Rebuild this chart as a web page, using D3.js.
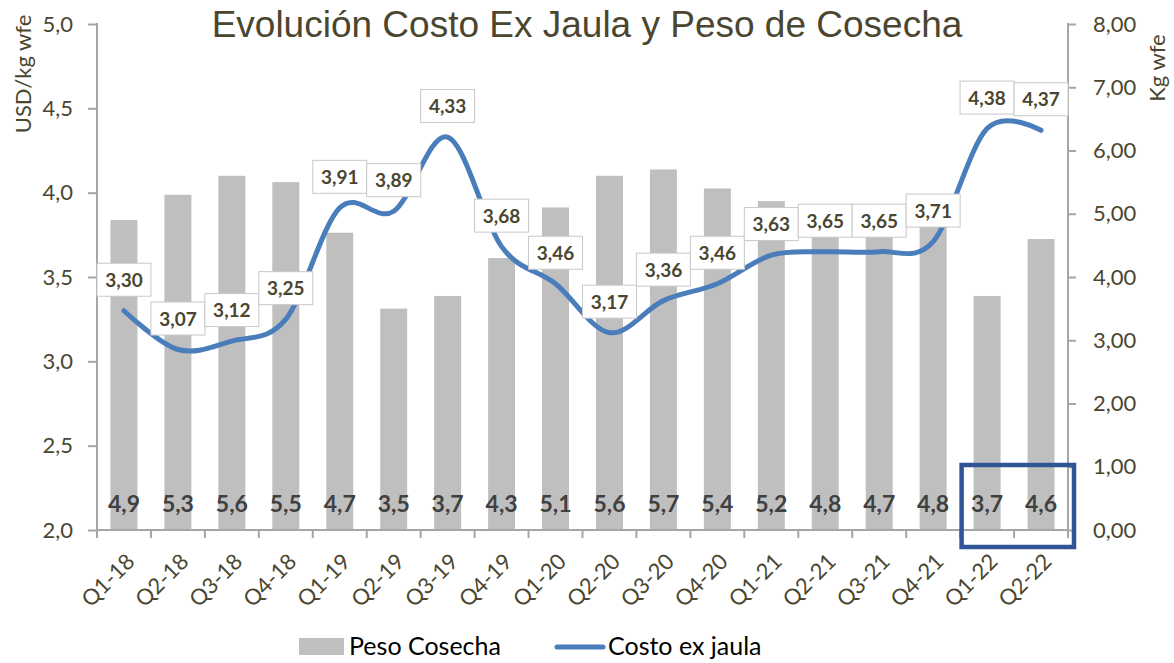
<!DOCTYPE html>
<html>
<head>
<meta charset="utf-8">
<script src="https://cdn.jsdelivr.net/npm/d3@7"></script>
<style>
  body { margin:0; background:#fff; }
  svg text { font-family: Lato, "Open Sans", sans-serif; }
</style>
</head>
<body>
<svg id="chart" width="1174" height="663"></svg>
<script>
// data
var quarters = ["Q1-18","Q2-18","Q3-18","Q4-18","Q1-19","Q2-19","Q3-19","Q4-19","Q1-20",
                "Q2-20","Q3-20","Q4-20","Q1-21","Q2-21","Q3-21","Q4-21","Q1-22","Q2-22"];
var pesoCosecha = [4.9,5.3,5.6,5.5,4.7,3.5,3.7,4.3,5.1,5.6,5.7,5.4,5.2,4.8,4.7,4.8,3.7,4.6];
var costoExJaula = [3.30,3.07,3.12,3.25,3.91,3.89,4.33,3.68,3.46,3.17,3.36,3.46,3.63,3.65,3.65,3.71,4.38,4.37];
var leftTicks = [2.0,2.5,3.0,3.5,4.0,4.5,5.0];
var rightTicks = [0,1,2,3,4,5,6,7,8];
var highlighted = ["Q1-22","Q2-22"];

var svg = d3.select("#chart");

var textColor = "#4a4630";
var axisColor = "#a6a6a6";

var plot = {left:97, right:1068, top:24, bottom:530};

var es = d3.formatLocale({decimal:",", thousands:".", grouping:[3], currency:["","$"]});
var f1 = es.format(".1f"), f2 = es.format(".2f");

var xScale = d3.scaleBand()
    .domain(quarters)
    .range([plot.left, plot.right])
    .paddingInner(0.5)
    .paddingOuter(0.25);

var yLeft = d3.scaleLinear().domain([2,5]).range([plot.bottom, plot.top]);
var yRight = d3.scaleLinear().domain([0,8]).range([plot.bottom, plot.top]);

var cx = function(q){ return xScale(q) + xScale.bandwidth()/2; };

// title
svg.append("text")
    .attr("x", 587).attr("y", 37)
    .attr("text-anchor","middle")
    .style("font-family","'Liberation Sans', Arial, sans-serif")
    .style("font-size","37px")
    .attr("fill", textColor)
    .text("Evolución Costo Ex Jaula y Peso de Cosecha");

// bars
svg.append("g").selectAll("rect")
    .data(pesoCosecha)
    .enter()
    .append("rect")
    .attr("x", function(d,i){ return xScale(quarters[i]); })
    .attr("width", xScale.bandwidth())
    .attr("y", function(d){ return yRight(d); })
    .attr("height", function(d){ return yRight(0) - yRight(d); })
    .attr("fill", "#bfbfbf");

// bar value labels
svg.append("g").selectAll("text")
    .data(pesoCosecha)
    .enter()
    .append("text")
    .attr("x", function(d,i){ return cx(quarters[i]); })
    .attr("y", 512)
    .attr("text-anchor","middle")
    .style("font-size","23px")
    .style("font-weight","bold")
    .attr("fill","#404040")
    .text(function(d){ return f1(d); });

// axes
var leftAxis = d3.axisLeft(yLeft).tickValues(leftTicks).tickSize(9).tickPadding(15).tickFormat(f1);
var gl = svg.append("g").attr("transform","translate("+plot.left+",0)").call(leftAxis);

var rightAxis = d3.axisRight(yRight).tickValues(rightTicks).tickSize(8).tickPadding(17).tickFormat(f2);
var gr = svg.append("g").attr("transform","translate("+plot.right+",0)").call(rightAxis);

[gl, gr].forEach(function(g){
    g.select(".domain").remove();
    g.selectAll(".tick line").attr("stroke", axisColor).attr("stroke-width",2);
    g.selectAll(".tick text").attr("fill", textColor).style("font-size","22px");
    g.append("line").attr("y1",plot.top-1).attr("y2",plot.bottom+1)
        .attr("stroke",axisColor).attr("stroke-width",2);
});

// x axis
var gx = svg.append("g").attr("transform","translate(0,"+plot.bottom+")");
gx.append("line").attr("x1",plot.left).attr("x2",plot.right).attr("stroke",axisColor).attr("stroke-width",2);
var step = xScale.step();
gx.selectAll("line.tk")
    .data(d3.range(quarters.length+1))
    .enter()
    .append("line").classed("tk",true)
    .attr("x1", function(i){ return plot.left + i*step; })
    .attr("x2", function(i){ return plot.left + i*step; })
    .attr("y1",0).attr("y2",8)
    .attr("stroke",axisColor).attr("stroke-width",2);
gx.selectAll("text")
    .data(quarters)
    .enter()
    .append("text")
    .attr("transform", function(q){ return "translate("+(cx(q)+12)+",33) rotate(-45)"; })
    .attr("text-anchor","end")
    .style("font-size","22px")
    .attr("fill", textColor)
    .text(function(q){ return q; });

// axis titles
svg.append("text")
    .attr("transform","translate(31,74) rotate(-90)")
    .attr("text-anchor","middle")
    .style("font-size","22px")
    .attr("fill", textColor)
    .text("USD/kg wfe");
svg.append("text")
    .attr("transform","translate(1165,68) rotate(-90)")
    .attr("text-anchor","middle")
    .style("font-size","22px")
    .attr("fill", textColor)
    .text("Kg wfe");

// line
var line = d3.line()
    .x(function(d,i){ return cx(quarters[i]); })
    .y(function(d){ return yLeft(d); })
    .curve(d3.curveCatmullRom.alpha(0));
svg.append("path")
    .datum(costoExJaula)
    .attr("d", line)
    .attr("fill","none")
    .attr("stroke","#4a7ebb")
    .attr("stroke-width",5)
    .attr("stroke-linecap","round");

// line labels
var lbl = svg.append("g").selectAll("g")
    .data(costoExJaula)
    .enter()
    .append("g")
    .attr("transform", function(d,i){ return "translate("+cx(quarters[i])+","+(yLeft(d)-31)+")"; });
lbl.append("rect")
    .attr("x",-27).attr("y",-16.5).attr("width",54).attr("height",33)
    .attr("fill","#fff").attr("stroke","#c8c8c8").attr("stroke-width",1);
lbl.append("text")
    .attr("text-anchor","middle")
    .attr("y",7)
    .style("font-size","19px")
    .style("font-weight","bold")
    .attr("fill","#4a4630")
    .text(function(d){ return f2(d); });

// highlight box
var hx0 = xScale(highlighted[0]) - 12;
var hx1 = xScale(highlighted[1]) + xScale.bandwidth() + step*0.25 + 6;
svg.append("rect")
    .attr("x", hx0).attr("y", 465)
    .attr("width", hx1 - hx0).attr("height", 82)
    .attr("fill","none")
    .attr("stroke","#2f5597")
    .attr("stroke-width",4.5);

// legend
var legend = svg.append("g");
legend.append("rect").attr("x",299).attr("y",638).attr("width",45).attr("height",17).attr("fill","#bfbfbf");
legend.append("text").attr("x",349).attr("y",655).style("font-size","25px").attr("fill","#000").text("Peso Cosecha");
legend.append("line").attr("x1",557).attr("x2",603).attr("y1",647).attr("y2",647)
    .attr("stroke","#4a7ebb").attr("stroke-width",5).attr("stroke-linecap","round");
legend.append("text").attr("x",608).attr("y",655).style("font-size","25px").attr("fill","#000").text("Costo ex jaula");
</script>
</body>
</html>
